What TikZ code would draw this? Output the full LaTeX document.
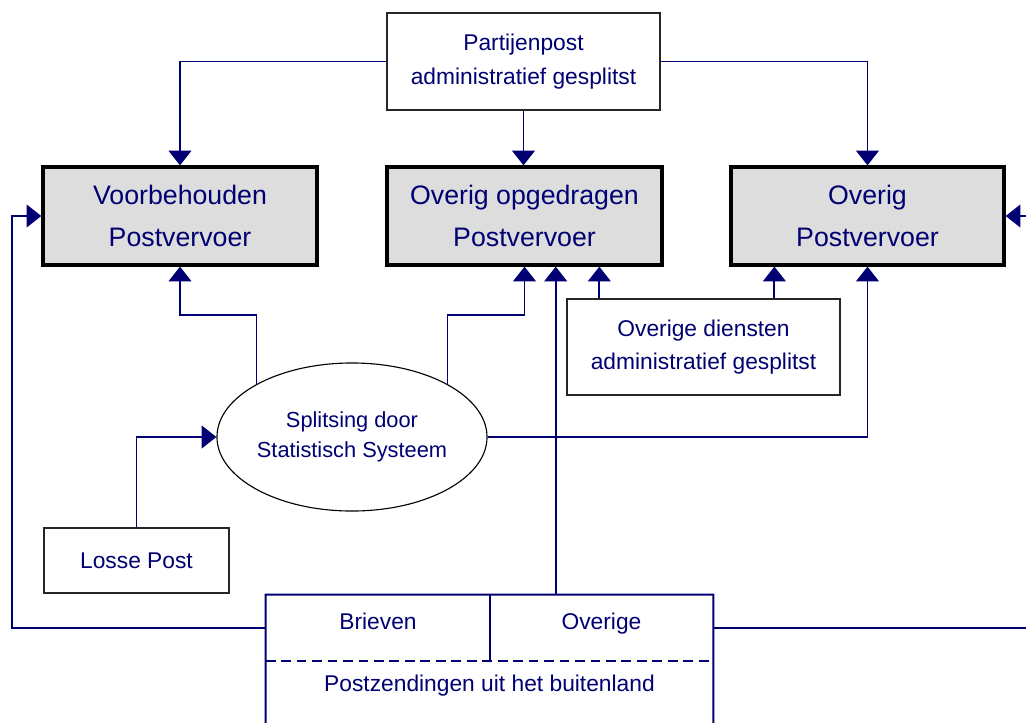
\documentclass[tikz,border=0pt]{standalone}
\usepackage{fontspec}
\setmainfont{Liberation Sans}
\usepackage{xcolor}
\usepackage{tikz}
\usetikzlibrary{arrows.meta,positioning,shapes.geometric}
\definecolor{navy}{RGB}{0,0,115}
\definecolor{boxgray}{RGB}{221,221,221}

\begin{document}
\begin{tikzpicture}[
  x=0.025cm, y=-0.025cm,
  >={Triangle[width=0.57cm,length=0.37cm]},
  every node/.style={text=navy,align=center,inner sep=0pt},
  flow/.style={draw=navy,line width=1.4pt,->},
  frame/.style={draw=navy,line width=1.4pt},
  mainbox/.style={draw=black,line width=2.3pt,fill=boxgray,
                  minimum height=2.45cm,font=\fontsize{19}{29.9}\selectfont},
  srcbox/.style={draw=black!85,line width=0.9pt,fill=white,
                 font=\fontsize{16.2}{24.5}\selectfont},
  partbox/.style={font=\fontsize{16.2}{24.5}\selectfont,minimum height=1.65cm}
]
\useasboundingbox (0,0) rectangle (1026,723);
\clip (0,0) rectangle (1026,723);

% ---- main boxes ----
\node[mainbox,minimum width=6.85cm]  (voor)   at (180,216)   {Voorbehouden\\Postvervoer};
\node[mainbox,minimum width=6.875cm] (opge)   at (524.5,216) {Overig opgedragen\\Postvervoer};
\node[mainbox,minimum width=6.825cm] (overig) at (867.5,216) {Overig\\Postvervoer};

% ---- sources ----
\node[srcbox,minimum width=6.825cm,minimum height=2.425cm] (partij) at (523.5,61.5)
  {Partijenpost\\administratief gesplitst};
\node[srcbox,minimum width=6.825cm,minimum height=2.4cm,
      font=\fontsize{16.2}{23.5}\selectfont] (diensten) at (703.5,347)
  {Overige diensten\\administratief gesplitst};
\node[srcbox,minimum width=4.625cm,minimum height=1.625cm] (losse) at (136.5,560.5)
  {Losse Post};
\node[ellipse,draw=black,line width=0.8pt,minimum width=6.75cm,minimum height=3.7cm,
      font=\fontsize{15.5}{21.3}\selectfont] (ell) at (352,437)
  {Splitsing door\\Statistisch Systeem};

% ---- buitenland ----
\node[partbox,minimum width=5.6cm,text depth=10pt]   (brieven) at (378,628)   {Brieven};
\node[partbox,minimum width=5.575cm,text depth=10pt] (overige) at (601.5,628) {Overige};
\node[partbox,minimum width=11.175cm,minimum height=1.25cm] (buitenland) at (489.5,686)
  {Postzendingen uit het buitenland};

\draw[frame] ([yshift=-2cm]buitenland.south west) -- (brieven.north west)
  -- (overige.north east) -- ([yshift=-2cm]buitenland.south east);
\draw[frame] (brieven.north east) -- (brieven.south east);
\draw[frame,dash pattern=on 7pt off 4pt] (brieven.south west) -- (overige.south east);

% ---- connectors ----
\draw[flow] (partij.west) -| (voor.north);
\draw[flow] (partij.south) -- (partij.south |- opge.north);
\draw[flow] (partij.east) -| (overig.north);

\draw[flow] (ell.151.6) -- ++(0,-69) -| (voor.south);
\draw[flow] (ell.29) -- ++(0,-69) -| (opge.south);
\draw[flow] (ell.east) -| (overig.south);
\draw[flow] (losse.north) |- (ell.west);

\draw[flow] ([xshift=0.825cm]diensten.north west) -- ([xshift=0.825cm]diensten.north west |- opge.south);
\draw[flow] ([xshift=5.2cm]diensten.north west) -- ([xshift=5.2cm]diensten.north west |- overig.south);

\draw[flow] ([xshift=1.65cm]overige.north west) -- ([xshift=1.65cm]overige.north west |- opge.south);
\draw[flow] (brieven.west) -- ++(-254,0) |- (voor.west);
\draw[flow] (overige.east) -- ++(330,0) |- (overig.east);

\end{tikzpicture}
\end{document}
